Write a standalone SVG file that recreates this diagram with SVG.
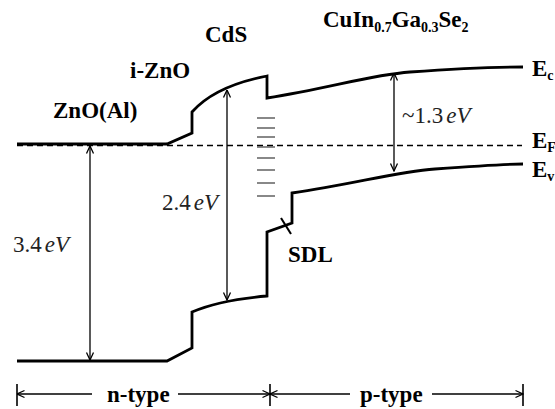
<svg xmlns="http://www.w3.org/2000/svg" width="555" height="409" viewBox="0 0 555 409">
<style>
.band{fill:none;stroke:#000;stroke-width:2.8;stroke-linejoin:miter}
.ef{fill:none;stroke:#000;stroke-width:1.5;stroke-dasharray:6,4}
.trap{stroke:#555;stroke-width:1.4}
.arr{fill:none;stroke:#000;stroke-width:1.3}
.lbl{font-weight:bold;font-size:23px;fill:#000}
.sub{font-size:14px}
.val{font-size:23px;fill:#222}
.it{font-style:italic}
</style>
<defs>
<marker id="ah" viewBox="0 0 10 10" refX="9.5" refY="5" markerWidth="10" markerHeight="10" markerUnits="userSpaceOnUse" orient="auto-start-reverse">
<path d="M2,1.5 L9.5,5 L2,8.5" fill="none" stroke="#000" stroke-width="1.3"/>
</marker>
</defs>
<rect width="555" height="409" fill="#fff"/>
<g id="bands">
<path class="band" d="M17,144 L167,144 L192,133 L192,112 Q215,86 267,76 L267,98 C330,88 370,75 410,72 S490,67 523,67"/>
<path class="band" d="M17,361 L167,361 L192,348 L192,312 Q220,300 267,296 L267,232 L292,223 L292,193 C355,184 395,172 435,169 S505,164 523,164"/>
<line class="ef" x1="17" y1="145.5" x2="522" y2="145.5"/>
<line x1="281" y1="218" x2="291" y2="234" stroke="#000" stroke-width="2"/>
</g>
<g id="traps">
<line class="trap" x1="257" y1="118" x2="275" y2="118"/>
<line class="trap" x1="257" y1="128" x2="275" y2="128"/>
<line class="trap" x1="257" y1="137" x2="275" y2="137"/>
<line class="trap" x1="257" y1="147" x2="275" y2="147"/>
<line class="trap" x1="257" y1="158" x2="275" y2="158"/>
<line class="trap" x1="257" y1="170" x2="275" y2="170"/>
<line class="trap" x1="257" y1="183" x2="275" y2="183"/>
<line class="trap" x1="257" y1="196" x2="275" y2="196"/>
</g>
<g id="connectors">
<line class="arr" x1="90" y1="146" x2="90" y2="360" marker-start="url(#ah)" marker-end="url(#ah)"/>
<line class="arr" x1="227" y1="90" x2="227" y2="300" marker-start="url(#ah)" marker-end="url(#ah)"/>
<line class="arr" x1="394" y1="73" x2="394" y2="171" marker-start="url(#ah)" marker-end="url(#ah)"/>
<line class="arr" x1="17" y1="394" x2="92" y2="394" marker-start="url(#ah)"/>
<line class="arr" x1="178" y1="394" x2="270" y2="394" marker-end="url(#ah)"/>
<line class="arr" x1="270" y1="394" x2="350" y2="394" marker-start="url(#ah)"/>
<line class="arr" x1="432" y1="394" x2="523" y2="394" marker-end="url(#ah)"/>
<line x1="17" y1="384" x2="17" y2="406" stroke="#000" stroke-width="1.6"/>
<line x1="270" y1="384" x2="270" y2="406" stroke="#000" stroke-width="1.6"/>
<line x1="523" y1="384" x2="523" y2="406" stroke="#000" stroke-width="1.6"/>
</g>
<g id="layer-labels" font-family="Liberation Serif, serif">
<text id="zno-al" class="lbl" x="53" y="118">ZnO(Al)</text>
<text id="i-zno" class="lbl" x="130" y="78">i-ZnO</text>
<text id="cds" class="lbl" x="205" y="42">CdS</text>
<text id="cigs" class="lbl" x="323" y="27">CuIn<tspan class="sub" dy="5">0.7</tspan><tspan dy="-5">Ga</tspan><tspan class="sub" dy="5">0.3</tspan><tspan dy="-5">Se</tspan><tspan class="sub" dy="5">2</tspan></text>
<text id="sdl" class="lbl" x="288" y="262">SDL</text>
<text id="n-type" class="lbl" x="107" y="402">n-type</text>
<text id="p-type" class="lbl" x="360" y="402">p-type</text>
</g>
<g id="level-labels" font-family="Liberation Serif, serif">
<text id="ec" class="lbl" x="532" y="76">E<tspan class="sub" dy="4">c</tspan></text>
<text id="ef" class="lbl" x="532" y="148">E<tspan class="sub" dy="4">F</tspan></text>
<text id="evl" class="lbl" x="532" y="177">E<tspan class="sub" dy="4">v</tspan></text>
</g>
<g id="gap-labels" font-family="Liberation Serif, serif">
<text class="val" x="13" y="252">3.4<tspan class="it" dx="3">eV</tspan></text>
<text class="val" x="162" y="210">2.4<tspan class="it" dx="3">eV</tspan></text>
<text class="val" x="402" y="123">~1.3<tspan class="it" dx="3">eV</tspan></text>
</g>
</svg>
